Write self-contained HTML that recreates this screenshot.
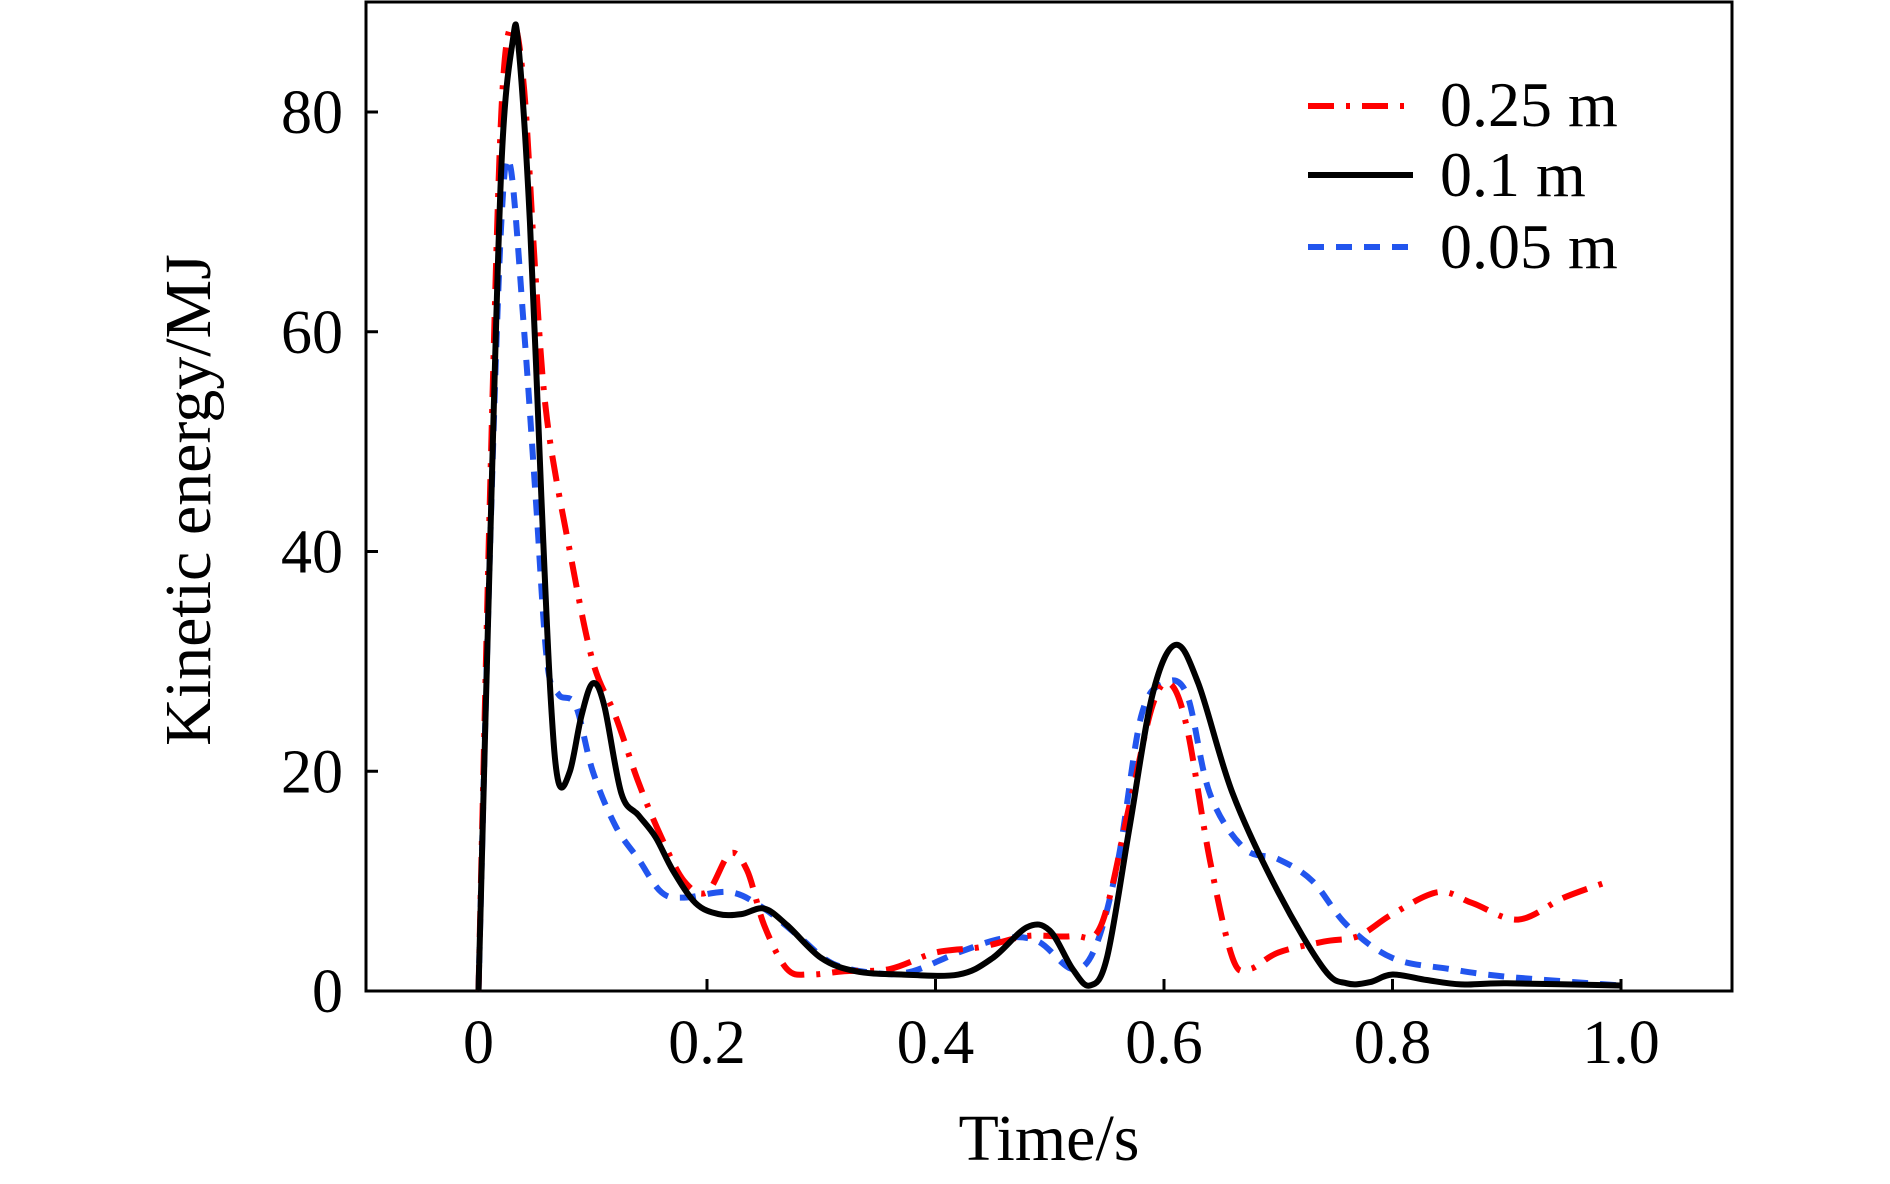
<!DOCTYPE html>
<html><head><meta charset="utf-8"><style>
body{margin:0;background:#fff}
svg text{font-family:"Liberation Serif",serif;fill:#000}
</style></head><body>
<svg id="chart" width="1890" height="1179">
<rect x="366" y="2" width="1366" height="989" fill="none" stroke="#000" stroke-width="3"/>
<g id="axes"></g>
<g id="series"></g>
<text x="210" y="500" font-size="66" text-anchor="middle" transform="rotate(-90 210 500)">Kinetic energy/MJ</text>
<text x="1049" y="1160" font-size="66" text-anchor="middle">Time/s</text>
<g>
<line x1="1308" y1="106" x2="1413" y2="106" stroke="#f00" stroke-width="6" stroke-dasharray="26,12,4,12"/>
<text x="1440" y="126" font-size="64">0.25 m</text>
<line x1="1308" y1="175" x2="1413" y2="175" stroke="#000" stroke-width="6"/>
<text x="1440" y="196" font-size="64">0.1 m</text>
<line x1="1308" y1="247" x2="1413" y2="247" stroke="#2255ee" stroke-width="6" stroke-dasharray="16,12"/>
<text x="1440" y="268" font-size="64">0.05 m</text>
</g>
</svg>
<script>
const xTicks=[0,0.2,0.4,0.6,0.8,1.0];
const xTickLabels=["0","0.2","0.4","0.6","0.8","1.0"];
const yTicks=[0,20,40,60,80];
const yTickLabels=["0","20","40","60","80"];
const t025=[0,0.01,0.02,0.03,0.04,0.05,0.06,0.08,0.1,0.12,0.14,0.16,0.18,0.2,0.22,0.235,0.25,0.27,0.29,0.32,0.36,0.4,0.44,0.48,0.52,0.545,0.57,0.59,0.605,0.62,0.64,0.66,0.675,0.7,0.74,0.77,0.8,0.84,0.87,0.91,0.95,0.99];
const v025=[0,45,80,88,82,65,52,40,30,25,19,14,10,9,12.5,11,6,2,1.5,1.8,2,3.5,4,5,5,6,17,26,28,24,12,3,2,3.5,4.5,5,7,9,8,6.5,8.5,10];
const t01=[0,0.01,0.02,0.03,0.035,0.045,0.055,0.063,0.07,0.08,0.09,0.1,0.11,0.125,0.14,0.155,0.17,0.19,0.21,0.23,0.25,0.27,0.3,0.33,0.37,0.42,0.45,0.48,0.5,0.52,0.535,0.55,0.57,0.59,0.61,0.63,0.66,0.7,0.74,0.76,0.78,0.8,0.83,0.86,0.9,1.0];
const v01=[0,40,75,86.5,86,70,45,27,19,20,25,28,26,18,16,14,11,8,7,7,7.5,6,3,1.8,1.5,1.5,3,5.8,5.5,2,0.5,3,15,27,31.5,28,18,9,2,0.7,0.8,1.5,1,0.6,0.7,0.5];
const t005=[0,0.01,0.02,0.028,0.04,0.05,0.06,0.07,0.085,0.1,0.12,0.14,0.16,0.18,0.22,0.25,0.28,0.31,0.35,0.38,0.42,0.46,0.49,0.52,0.54,0.56,0.58,0.6,0.62,0.64,0.67,0.7,0.73,0.76,0.8,0.85,0.9,1.0];
const v005=[0,40,70,75,60,45,30,27,26,20,15,12,9,8.5,9,7.5,5,2.5,1.6,1.8,3.5,4.8,4.5,2,4,12,25,28,27,18,13,12,10,6,3,2,1.3,0.5];
const X=v=>478.5+v*(1621-478.5);
const Y=v=>991-v*(991-112)/80;
const NS="http://www.w3.org/2000/svg";
const axes=document.getElementById('axes'),ser=document.getElementById('series');
function mk(tag,attrs,parent){const e=document.createElementNS(NS,tag);for(const k in attrs)e.setAttribute(k,attrs[k]);parent.appendChild(e);return e;}
xTicks.forEach((v,i)=>{
 const l=mk('line',{x1:X(v),x2:X(v),y1:991,y2:979,stroke:'#000','stroke-width':3},axes);
 
 
 const t=mk('text',{x:X(v),y:1063,'font-size':62,'text-anchor':'middle'},axes);t.textContent=xTickLabels[i];
 
 
});
yTicks.forEach((v,i)=>{
 const l=mk('line',{x1:366,x2:378,y1:Y(v),y2:Y(v),stroke:'#000','stroke-width':3},axes);
 
 
 const t=mk('text',{x:343,y:Y(v)+21,'font-size':62,'text-anchor':'end'},axes);t.textContent=yTickLabels[i];
 
 
});
function path(ts,vs){
 const p=ts.map((t,i)=>[X(t),Y(vs[i])]);
 let d='M'+p[0][0]+','+p[0][1];
 for(let i=0;i<p.length-1;i++){
  const p0=p[Math.max(i-1,0)],p1=p[i],p2=p[i+1],p3=p[Math.min(i+2,p.length-1)];
  const c1=[p1[0]+(p2[0]-p0[0])/6,p1[1]+(p2[1]-p0[1])/6],c2=[p2[0]-(p3[0]-p1[0])/6,p2[1]-(p3[1]-p1[1])/6];
  d+=` C${c1[0]},${c1[1]} ${c2[0]},${c2[1]} ${p2[0]},${p2[1]}`;
 }
 return d;
}
const s1=mk('path',{d:path(t005,v005),fill:'none',stroke:'#2255ee','stroke-width':6,'stroke-dasharray':'16,12'},ser);


const s2=mk('path',{d:path(t025,v025),fill:'none',stroke:'#f00','stroke-width':6,'stroke-dasharray':'26,12,4,12'},ser);


const s3=mk('path',{d:path(t01,v01),fill:'none',stroke:'#000','stroke-width':6},ser);


</script>
</body></html>
